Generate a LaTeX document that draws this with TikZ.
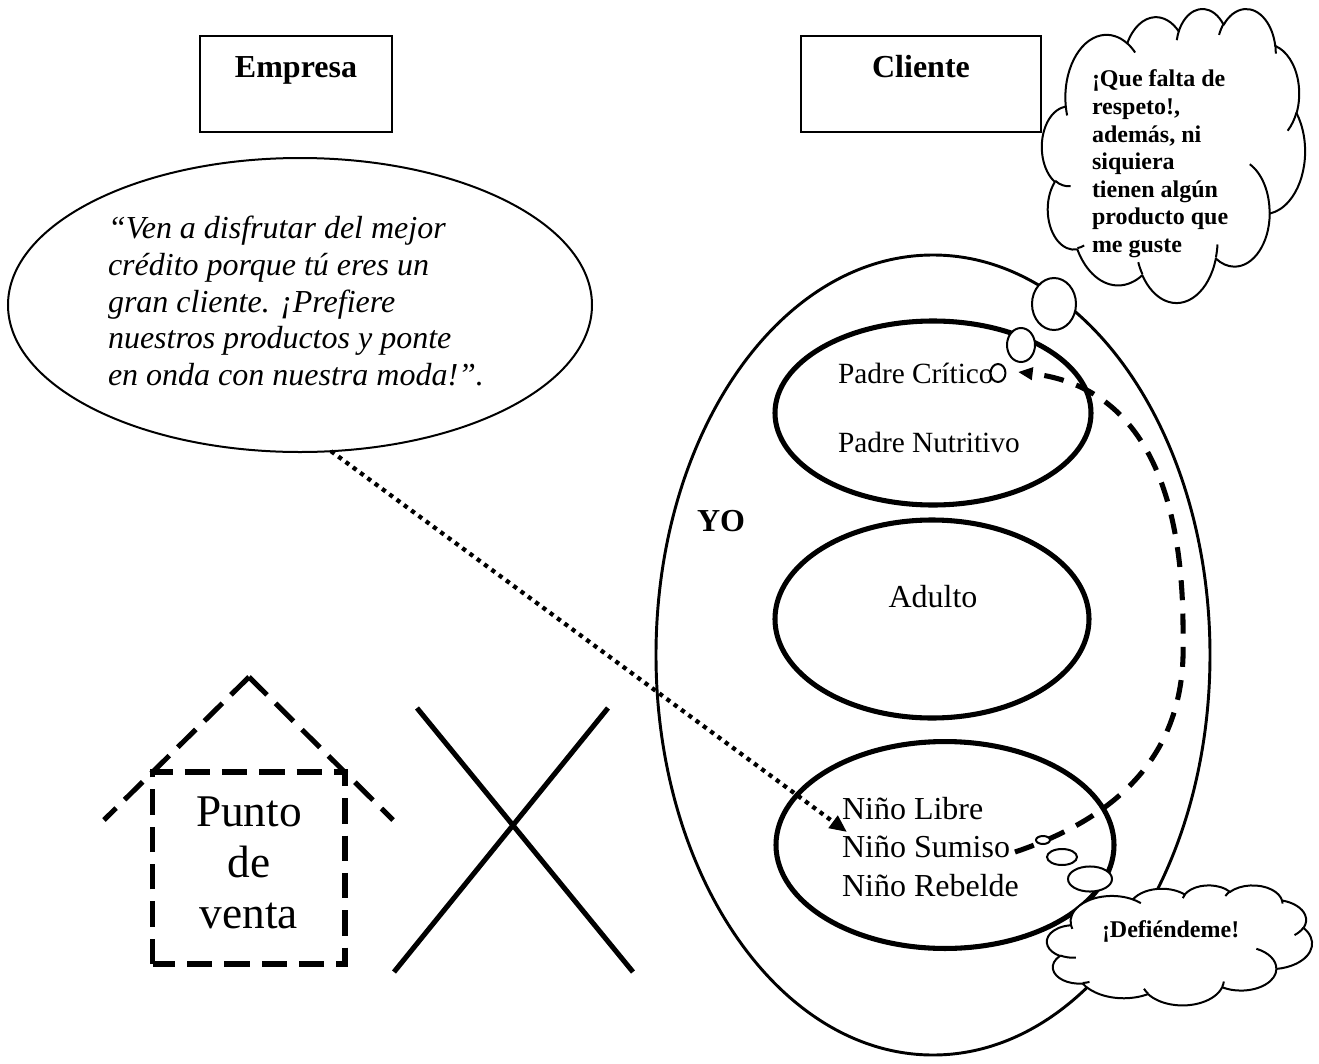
\documentclass[tikz,border=0pt]{standalone}
\usepackage{fontspec}
\setmainfont{Liberation Serif}
\usetikzlibrary{shapes.geometric,arrows.meta}
% one bump of a cloud outline: radii, start angle and sweep as seen on screen
\newcommand\cloudarc[4]{%
  \pgfextra{%
    \pgfmathparse{atan2((#1)*sin(#3),(#2)*cos(#3))}\global\let\cloudA\pgfmathresult
    \pgfmathparse{atan2((#1)*sin((#3)+(#4)),(#2)*cos((#3)+(#4)))}\global\let\cloudB\pgfmathresult
    \pgfmathparse{mod((\cloudB)-(\cloudA)+720,360)}\global\let\cloudD\pgfmathresult
  }%
  arc[x radius=#1,y radius=#2,start angle=\cloudA,delta angle=\cloudD]}
% cloud drawn in a 432 x 432 box
\newcommand\cloudshape{%
  \filldraw[cloudline] (39.00,143.70)
    \cloudarc{67.53}{91.90}{-190.4875}{123.7805}
    \cloudarc{53.33}{72.67}{-144.1024}{89.9452}
    \cloudarc{43.65}{59.45}{-145.8079}{99.7230}
    \cloudarc{48.57}{65.95}{-130.9861}{117.2417}
    \cloudarc{53.33}{72.73}{-78.7089}{109.0269}
    \cloudarc{67.75}{92.20}{-46.2673}{130.2690}
    \cloudarc{57.85}{78.67}{0.6250}{114.0333}
    \cloudarc{67.52}{92.15}{22.4516}{115.1726}
    \cloudarc{77.20}{105.43}{66.2426}{75.7110}
    \cloudarc{43.60}{59.18}{-274.9421}{146.7356}
    \cloudarc{43.45}{59.45}{-246.8285}{152.5189}
    -- cycle;
  \draw[cloudline]
    (46.93,261.77) \cloudarc{43.45}{59.45}{86.742}{26.4295}
    (69.28,348.99) \cloudarc{43.60}{59.18}{73.6105}{11.4475}
    (164.78,390.90) \cloudarc{67.52}{92.15}{137.6242}{14.0811}
    (288.27,347.51) \cloudarc{67.52}{92.15}{6.4533}{15.9984}
    (341.29,229.54) \cloudarc{57.85}{78.67}{-70.2924}{70.9174}
    (417.98,153.54) \cloudarc{53.33}{72.73}{30.3180}{27.7515}
    (383.24,54.26) \cloudarc{48.57}{65.95}{-13.7443}{14.8589}
    (290.78,39.52) \cloudarc{48.57}{65.95}{-149.1815}{18.1954}
    (221.41,47.20) \cloudarc{43.65}{59.45}{-163.4943}{17.6864}
    (140.00,51.92) \cloudarc{67.53}{91.90}{-66.7070}{12.3194}
    (41.27,157.89) \cloudarc{67.53}{91.90}{157.6544}{11.8582};}
\begin{document}
\begin{tikzpicture}[x=0.375pt,y=-0.375pt,
  every node/.style={inner sep=0pt,outer sep=0pt},
  reg/.style={font=\fontsize{12}{13.8}\selectfont},
  regsmall/.style={font=\fontsize{11}{12.6}\selectfont},
  bold/.style={font=\fontsize{12}{13.8}\selectfont\bfseries},
  small/.style={font=\fontsize{9}{10.35}\selectfont\bfseries,align=left},
  frame/.style={draw,line width=0.75pt,minimum height=36pt,minimum width=#1},
  oval/.style={ellipse,draw,line width=#1},
  bubble/.style={ellipse,draw,fill=white,line width=0.75pt},
  cloudline/.style={draw,fill=white,line width=0.75pt,line join=round},
  boldline/.style={line width=1.9pt},
  housedash/.style={line width=1.9pt,dash pattern=on 9.5pt off 4.5pt},
  dotarrow/.style={line width=1.6pt,dash pattern=on 1.6pt off 1.8pt,-{Triangle[length=6.5pt,width=5.5pt]}},
  dasharrow/.style={line width=1.9pt,dash pattern=on 7.5pt off 5pt,-{Triangle[length=5.5pt,width=4.5pt]}},
]
\useasboundingbox (0,0) rectangle (1319,1064);

% title boxes
\node[frame=72pt] (empresa) at (296,84) {};
\node[bold,anchor=base] (empresatxt) at (296,77) {Empresa};
\node[frame=90pt] (cliente) at (921,84) {};
\node[bold,anchor=base] (clientetxt) at (921,77) {Cliente};

% advertising speech bubble
\node[oval=0.75pt,minimum width=219pt,minimum height=110.25pt] (ven) at (300,305) {};
\node[font=\fontsize{12}{13.8}\selectfont\itshape,align=left,anchor=north west] (ventxt) at (108,216)
  {``Ven a disfrutar del mejor\\crédito porque tú eres un\\gran cliente. ¡Prefiere\\nuestros productos y ponte\\en onda con nuestra moda!''.};

% ego states
\node[oval=1.1pt,minimum width=207.75pt,minimum height=300pt] (yo) at (933,655) {};
\node[oval=1.9pt,minimum width=118.5pt,minimum height=69pt] (padre) at (933,413) {};
\node[oval=1.9pt,minimum width=117.75pt,minimum height=74.25pt] (adulto) at (932,619) {};
\node[oval=1.9pt,minimum width=126.75pt,minimum height=77.6pt] (nino) at (945,845) {};

\node[bold,anchor=base west] (yotxt) at (697,531) {YO};
\node[regsmall,anchor=base west] (critico) at (838,383) {Padre Crítico};
\node[regsmall,anchor=base west] (nutritivo) at (838,452) {Padre Nutritivo};
\node[reg,anchor=base] (adultotxt) at (933,607) {Adulto};
\node[reg,anchor=base west] (libre) at (842,819) {Niño Libre};
\node[reg,anchor=base west] (sumiso) at (842,857) {Niño Sumiso};
\node[reg,anchor=base west] (rebelde) at (842,896) {Niño Rebelde};

% point of sale house
\draw[housedash] (249,677) -- (104,820);
\draw[housedash] (249,677) -- (393,820);
\draw[housedash] (152.5,964) -- (152.5,772) -- (345,772) -- (345,964) -- cycle;
\node[font=\fontsize{17}{19}\selectfont,align=center,anchor=north] (punto) at (249,797)
  {Punto\\de\\venta};

% cross
\draw[boldline] (417,708) -- (633,972);
\draw[boldline] (608,708) -- (394,972);

% message reaching the child
\coordinate (dottip) at (847,832);
\draw[dotarrow] (ven.-78) -- (dottip);

% child asking the parent for help
\coordinate (dashstart) at (1015,852);
\coordinate (arrowtip) at (1018,372);
\draw[dasharrow] (dashstart) .. controls (1110,820) and (1187,760) .. (1183,640)
  .. controls (1185,470) and (1130,385) .. (arrowtip);

% thought bubbles
\node[bubble,minimum width=16.5pt,minimum height=19.5pt] (pb1) at (1054,304) {};
\node[bubble,minimum width=10.5pt,minimum height=12.75pt] (pb2) at (1021,345) {};
\node[bubble,minimum width=5.6pt,minimum height=6.75pt] (pb3) at (998,373) {};
\node[bubble,minimum width=5.25pt,minimum height=3pt] (nb1) at (1043,840) {};
\node[bubble,minimum width=11.25pt,minimum height=6pt] (nb2) at (1062,857) {};
\node[bubble,minimum width=16.5pt,minimum height=9.4pt] (nb3) at (1090,879) {};

% clouds
\begin{scope}[shift={(1042,8)},x=0.22830pt,y=-0.25521pt]
  \cloudshape
\end{scope}
\node[small,anchor=north west] (thoughttxt) at (1092,70)
  {¡Que falta de\\respeto!,\\además, ni\\siquiera\\tienen algún\\producto que\\me guste};

\begin{scope}[shift={(1047,885)},x=0.23003pt,y=-0.10417pt]
  \cloudshape
\end{scope}
\node[small,anchor=base west] (defiendetxt) at (1102,937) {¡Defiéndeme!};
\end{tikzpicture}
\end{document}
